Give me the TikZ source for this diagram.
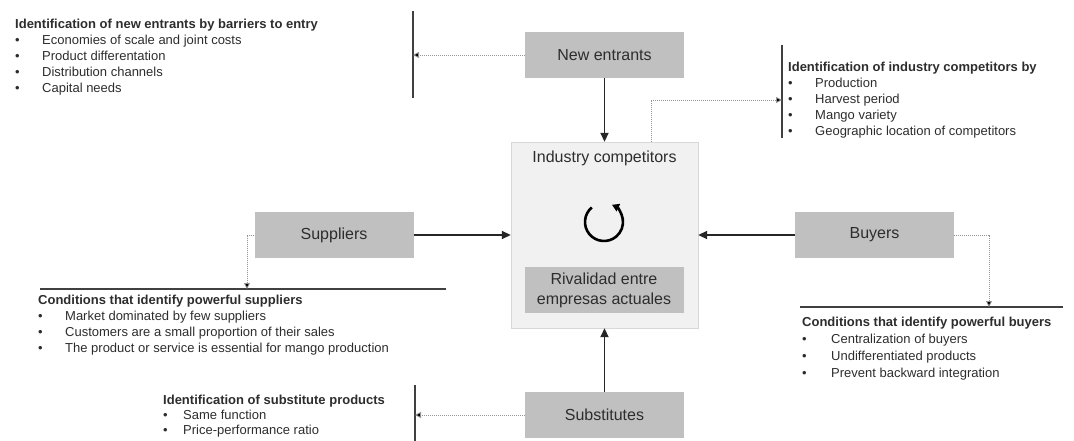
\documentclass[tikz,border=0pt]{standalone}
\usepackage{fontspec}
\setmainfont{Liberation Sans}
\usetikzlibrary{arrows.meta, positioning, calc}
\definecolor{boxgray}{RGB}{192,192,192}
\definecolor{panel}{RGB}{241,241,241}
\definecolor{panelline}{RGB}{215,215,215}
\definecolor{txt}{RGB}{45,45,45}
\definecolor{dotgray}{RGB}{150,150,150}
\newcommand{\bul}[1][27pt]{\makebox[#1][l]{\textbullet}}

\begin{document}
\begin{tikzpicture}[x=1pt,y=-1pt,
  force/.style={fill=boxgray,minimum width=159pt,minimum height=46pt,font=\fontsize{16}{20}\selectfont,text=txt},
  notes/.style={anchor=north west,inner sep=0pt,align=left,font=\fontsize{13}{16}\selectfont,text=txt},
  push/.style={line width=1.8pt,draw=black!85,-{Triangle[length=9pt,width=8pt]}},
  hint/.style={draw=dotgray,line width=0.8pt,dash pattern=on 1pt off 1pt,-{Triangle[length=6pt,width=6pt,fill=black]}},
  bar/.style={line width=1.8pt,draw=black!75}]
\useasboundingbox (0,0) rectangle (1074,441);

\node[fill=panel,draw=panelline,minimum width=187pt,minimum height=186pt] (comp) at (604.5,235){};
\node[font=\fontsize{16}{20}\selectfont,text=txt] (compt) at (604.5,158){Industry competitors};
\node[force,align=center] (riv) at (604,290){Rivalidad entre\\empresas actuales};
\node[force] (ne) at (604.5,55){New entrants};
\node[force] (sup) at (334,235){Suppliers};
\node[force] (buy) at (874.5,235){Buyers};
\node[force] (sub) at (604.5,415){Substitutes};

\coordinate (cyc) at (604,222);
\draw[line width=2.6pt,-{Triangle[length=7pt,width=8pt]}] ([shift={(-130:19)}]cyc) arc[start angle=-130,end angle=-425,radius=19];

\draw[push] (ne) to (comp);
\draw[push] (sup) to (comp);
\draw[push] (buy) to (comp);
\draw[push] (sub) to (comp);

\coordinate (neA) at (413,11);
\coordinate (neB) at (413,98);
\coordinate (neT) at (413,55);
\coordinate (cpA) at (782,45);
\coordinate (cpB) at (782,138);
\coordinate (cpT) at (782,100);
\coordinate (spA) at (40,289);
\coordinate (spB) at (446,289);
\coordinate (spT) at (247,289);
\coordinate (byA) at (800,307);
\coordinate (byB) at (1063,307);
\coordinate (byT) at (989,307);
\coordinate (sbA) at (415,385);
\coordinate (sbB) at (415,441);
\coordinate (sbT) at (415,415);

\draw[bar] (neA) to (neB);
\draw[bar] (cpA) to (cpB);
\draw[bar] (spA) to (spB);
\draw[bar] (byA) to (byB);
\draw[bar] (sbA) to (sbB);

\draw[hint] (ne.west) to (neT);
\draw[hint] ($(comp.north)+(46.5,0)$) |- (cpT);
\draw[hint] (sup.west) -| (spT);
\draw[hint] (buy.east) -| (byT);
\draw[hint] (sub.west) to (sbT);

\node[notes] (netx) at (15,19){\textbf{Identification of new entrants by barriers to entry}\\
  \bul Economies of scale and joint costs\\ \bul Product differentation\\
  \bul Distribution channels\\ \bul Capital needs};
\node[notes] (cptx) at (788,62){\textbf{Identification of industry competitors by}\\
  \bul Production\\ \bul Harvest period\\ \bul Mango variety\\
  \bul Geographic location of competitors};
\node[notes] (sptx) at (38,295){\textbf{Conditions that identify powerful suppliers}\\
  \bul Market dominated by few suppliers\\
  \bul Customers are a small proportion of their sales\\
  \bul The product or service is essential for mango production};
\node[notes,font=\fontsize{13}{17}\selectfont] (bytx) at (802,317){\textbf{Conditions that identify powerful buyers}\\
  \bul[29pt]Centralization of buyers\\ \bul[29pt]Undifferentiated products\\
  \bul[29pt]Prevent backward integration};
\node[notes,font=\fontsize{13}{15}\selectfont] (sbtx) at (163,395){\textbf{Identification of substitute products}\\
  \bul[20pt]Same function\\ \bul[20pt]Price-performance ratio};
\end{tikzpicture}
\end{document}
